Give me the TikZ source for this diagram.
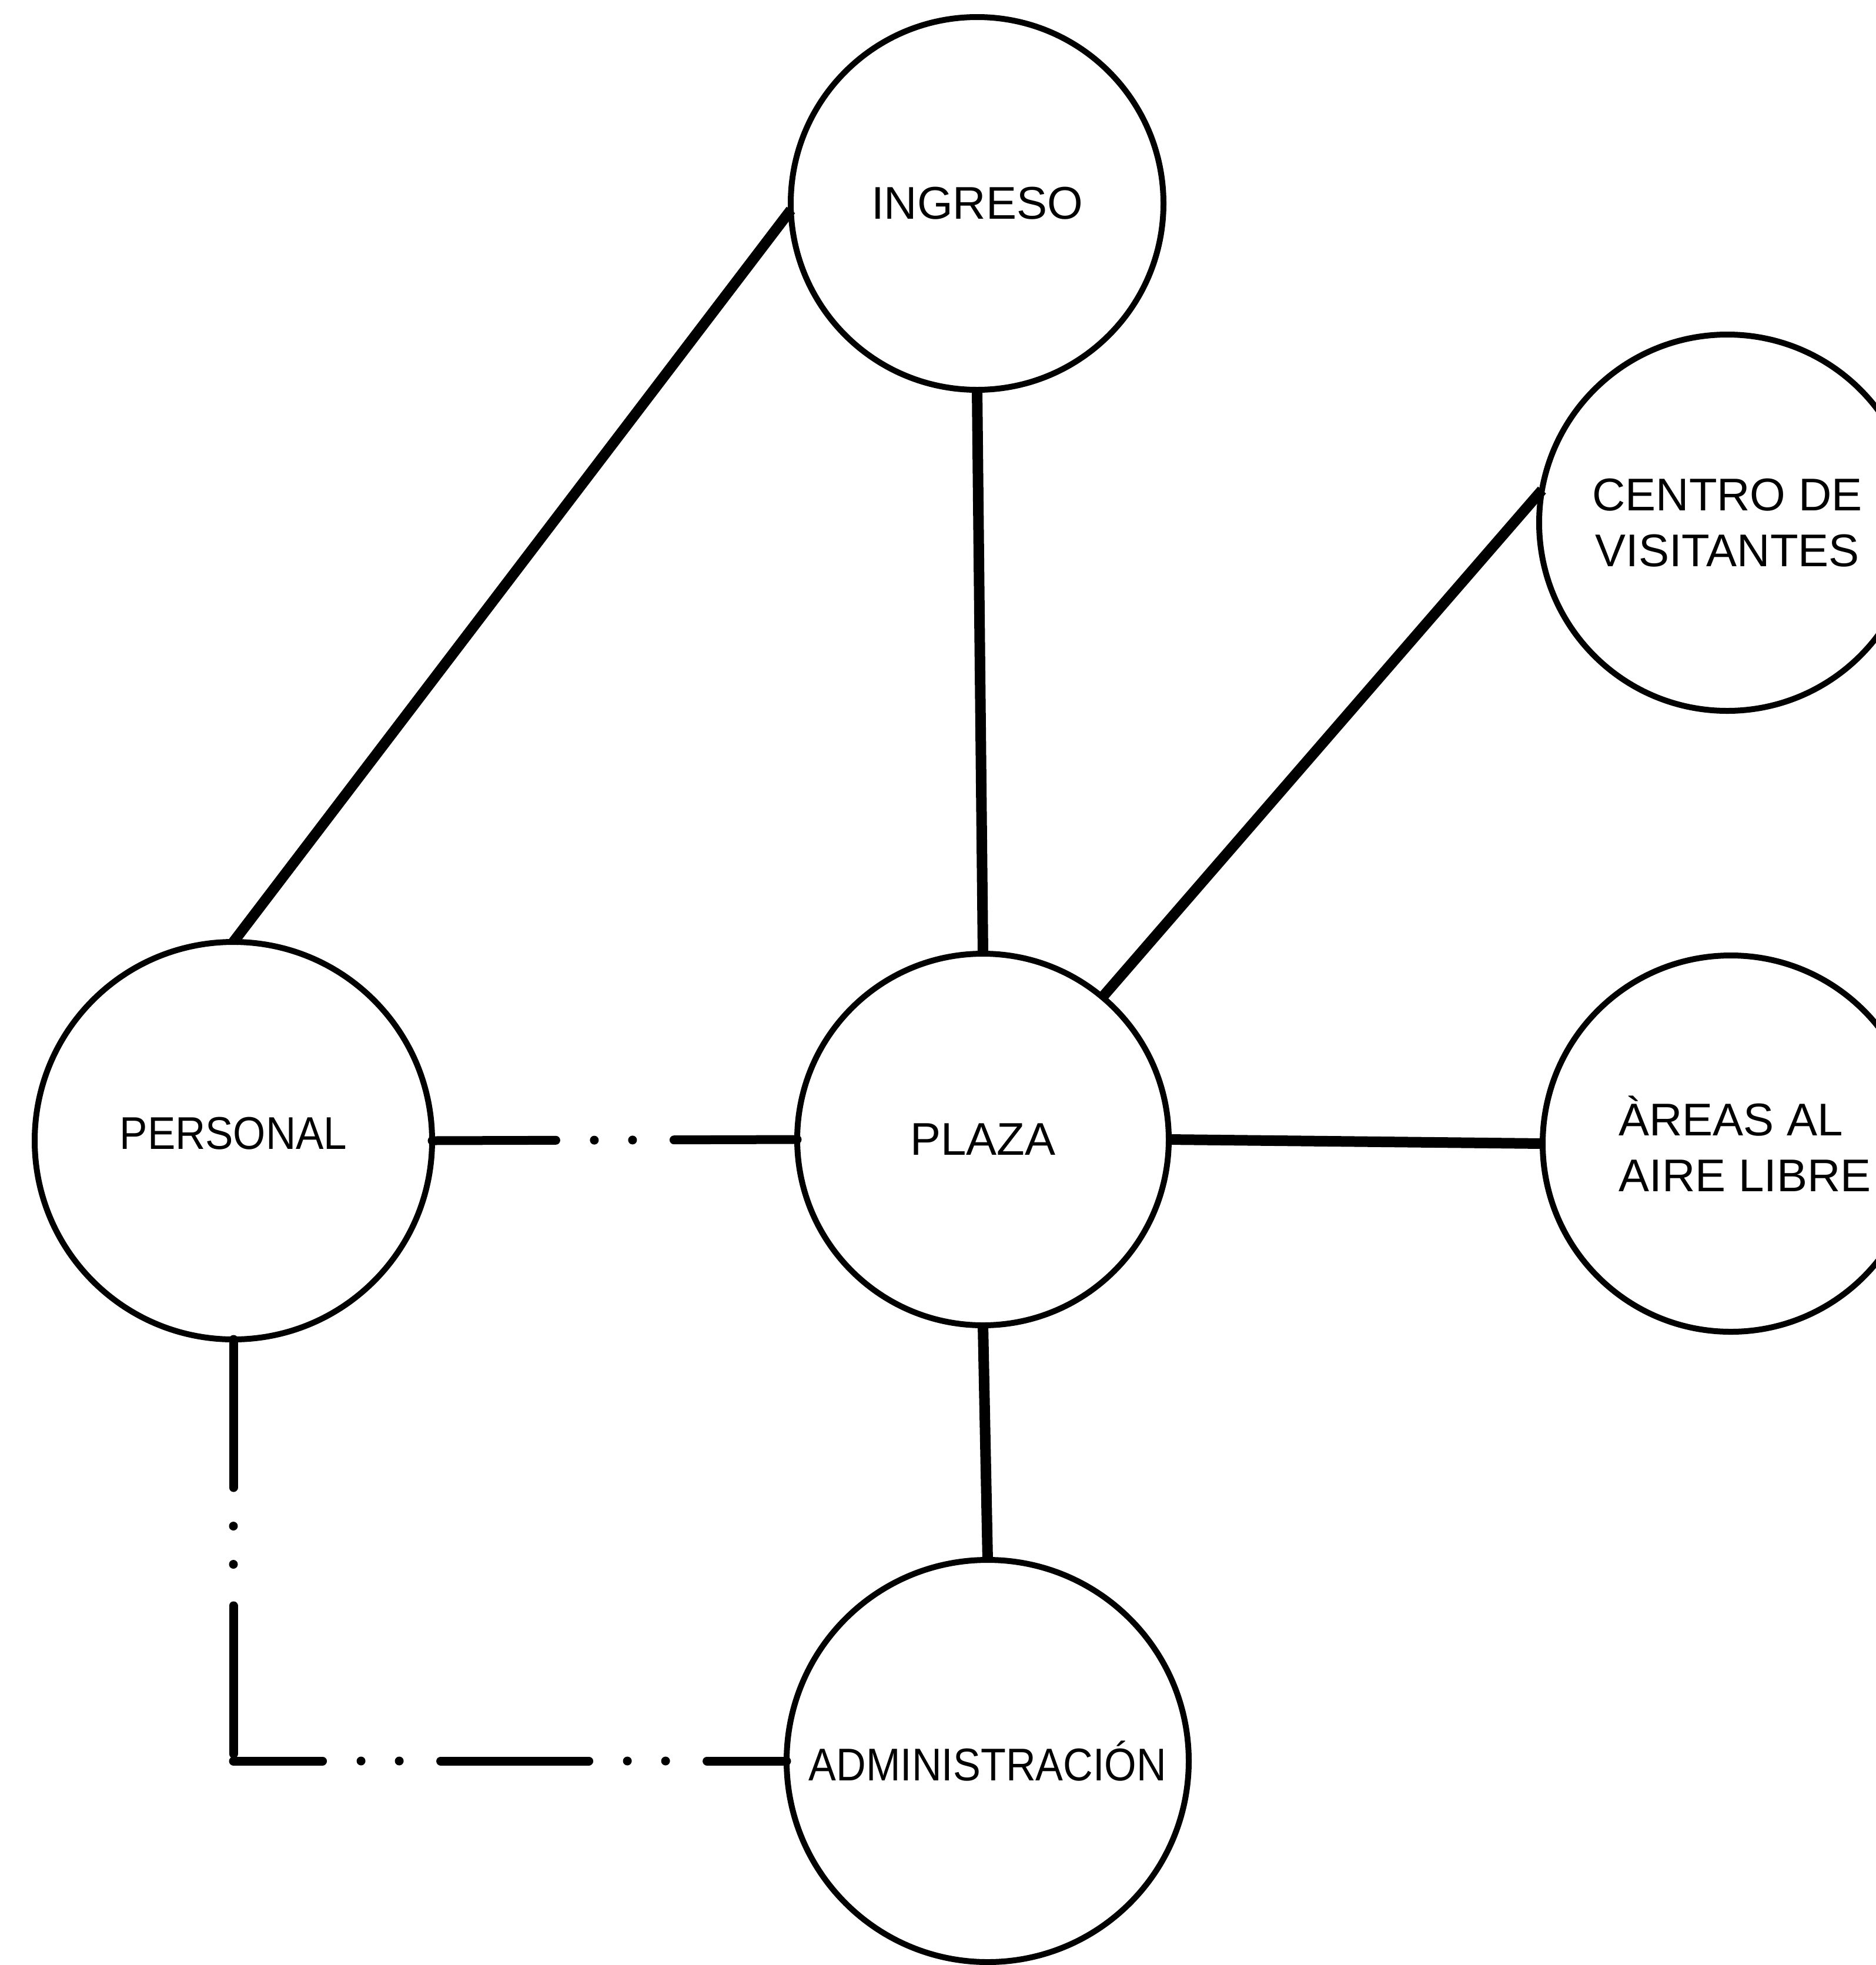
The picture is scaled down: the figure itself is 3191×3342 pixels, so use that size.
\documentclass[tikz,border=0pt]{standalone}
\usepackage{fontspec}
\usepackage{graphicx}
\setmainfont{Liberation Sans}
\tikzset{
  zone/.style={circle, draw, line width=2.5pt, inner sep=0pt, outer sep=0pt,
    font=\fontsize{19.5}{23.75}\selectfont, align=center},
  link/.style={line width=4.5pt},
  dashlink/.style={line width=3.75pt, line cap=round,
    dash pattern=on 63pt off 16.375pt on 0pt off 16.25pt on 0pt off 17.625pt},
}
\begin{document}
\begin{tikzpicture}[x=0.25pt,y=-0.25pt]
\useasboundingbox (0,0) rectangle (3191,3342);
\clip (0,0) rectangle (3191,3342);
\fill[white] (0,0) rectangle (3191,3342);
% zones
\node[zone, minimum size=158.5pt] (ingreso) at (1662,346) {INGRESO};
\node[zone, minimum size=160pt] (centro) at (2938,889) {CENTRO DE\\VISITANTES};
\node[zone, minimum size=169pt] (personal) at (397,1940) {\raisebox{6.5pt}{\scalebox{0.91}[1]{PERSONAL}}};
\node[zone, minimum size=158pt] (plaza) at (1672,1938) {PLAZA};
\node[zone, minimum size=160pt, align=left] (areas) at (2944,1945) {\hspace*{12pt}ÀREAS AL\\\hspace*{12pt}AIRE LIBRE};
\node[zone, minimum size=171pt] (admin) at (1680,2995) {\scalebox{0.9}[1]{ADMINISTRACIÓN}};
\coordinate (corner) at (personal.south |- admin.west);
% solid connectors
\draw[link] (ingreso.182) -- (personal.north);
\draw[link] (ingreso.south) -- (plaza.north);
\draw[link] (plaza.50) -- (centro.170);
\draw[link] (plaza.east) -- (areas.west);
\draw[link] (plaza.south) -- (admin.north);
% dash-dot-dot connectors
\draw[dashlink, dash phase=10.4pt] (personal.east) -- (plaza.west);
\draw[dashlink, dash phase=0pt] (personal.south) -- (corner);
\draw[dashlink, dash phase=25.1pt] (corner) -- (admin.west);
\end{tikzpicture}
\end{document}
